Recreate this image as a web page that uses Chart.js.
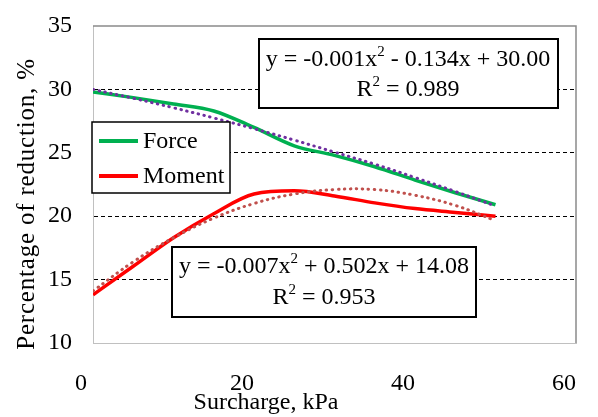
<!DOCTYPE html>
<html>
<head>
<meta charset="utf-8">
<script src="https://cdn.jsdelivr.net/npm/chart.js@4.4.1/dist/chart.umd.min.js"></script>
<style>
  html, body { margin: 0; padding: 0; background: #fff; }
  canvas { display: block; }
</style>
</head>
<body>
<canvas id="chart" width="598" height="417"></canvas>
<script>
// Reduction (%) against surcharge (kPa)
const surcharge = [0, 5, 10, 15, 20, 25, 30, 35, 40, 45, 50];
const forceReduction = [29.8, 29.35, 28.85, 28.3, 27.0, 25.55, 24.8, 23.9, 22.85, 21.85, 20.9];
const momentReduction = [13.8, 16.05, 18.3, 20.2, 21.75, 22.0, 21.6, 21.05, 20.6, 20.3, 20.0];

// Second-order polynomial trend curves
const trendSurcharge = [0, 5, 10, 15, 20, 25, 30, 35, 40, 45, 50];
const forceTrend = [30.0, 29.3, 28.55, 27.75, 26.9, 26.0, 25.05, 24.1, 23.05, 21.95, 20.8];
const momentTrend = [14.1, 16.4, 18.3, 19.85, 21.0, 21.75, 22.1, 22.1, 21.65, 20.85, 19.65];

// Axis ticks
const xTicks = [0, 20, 40, 60];
const yTicks = [10, 15, 20, 25, 30, 35];
const dashedGridValues = [15, 20, 25, 30];

// Series names
const seriesNames = ['Force', 'Moment'];

// Trend equations: [text, isSuperscript]
const forceEqLine1 = [['y = -0.001x', false], ['2', true], [' - 0.134x + 30.00', false]];
const forceEqLine2 = [['R', false], ['2', true], [' = 0.989', false]];
const momentEqLine1 = [['y = -0.007x', false], ['2', true], [' + 0.502x + 14.08', false]];
const momentEqLine2 = [['R', false], ['2', true], [' = 0.953', false]];

const xTitle = 'Surcharge, kPa';
const yTitle = 'Percentage of reduction, %';

const SERIF = '"Liberation Serif", "Times New Roman", serif';
const GREEN = '#00B050';
const RED = '#FF0000';
const PURPLE = '#7030A0';
const TREND_RED = '#C0504D';

const toPoints = (xs, ys) => xs.map((x, i) => ({ x, y: ys[i] }));

function richWidth(ctx, parts) {
  let w = 0;
  for (const [t, sup] of parts) {
    ctx.font = (sup ? '15px ' : '24px ') + SERIF;
    w += ctx.measureText(t).width;
  }
  return w;
}

function drawRich(ctx, parts, cx, cy) {
  let x = cx - richWidth(ctx, parts) / 2;
  ctx.textAlign = 'left';
  ctx.textBaseline = 'middle';
  for (const [t, sup] of parts) {
    ctx.font = (sup ? '15px ' : '24px ') + SERIF;
    ctx.fillText(t, x, sup ? cy - 8 : cy);
    x += ctx.measureText(t).width;
  }
}

function drawBox(ctx, x, y, w, h, lw) {
  ctx.fillStyle = '#fff';
  ctx.fillRect(x, y, w, h);
  ctx.strokeStyle = '#000';
  ctx.lineWidth = lw;
  ctx.strokeRect(x, y, w, h);
}

const annotations = {
  id: 'annotations',
  afterDatasetsDraw(chart) {
    const ctx = chart.ctx;
    const a = chart.chartArea;
    ctx.save();

    // Plot frame, top and right edges
    ctx.strokeStyle = '#8a8a8a';
    ctx.lineWidth = 1.5;
    ctx.setLineDash([]);
    ctx.beginPath();
    ctx.moveTo(a.left, a.top);
    ctx.lineTo(a.right, a.top);
    ctx.lineTo(a.right, a.bottom);
    ctx.stroke();

    // Legend
    drawBox(ctx, 92, 122, 138, 71, 1.5);
    const series = chart.data.datasets.filter(d => !d.isTrend);
    series.forEach((d, i) => {
      const cy = 141 + i * 35;
      ctx.strokeStyle = d.borderColor;
      ctx.lineWidth = 4;
      ctx.beginPath();
      ctx.moveTo(99, cy);
      ctx.lineTo(138, cy);
      ctx.stroke();
      ctx.fillStyle = '#000';
      ctx.font = '24px ' + SERIF;
      ctx.textAlign = 'left';
      ctx.textBaseline = 'middle';
      ctx.fillText(d.label, 143, cy + 1);
    });

    // Trend equations
    drawBox(ctx, 259, 39, 299, 69, 2);
    ctx.fillStyle = '#000';
    drawRich(ctx, forceEqLine1, 408, 60);
    drawRich(ctx, forceEqLine2, 408, 90);

    drawBox(ctx, 172, 247, 304, 70, 2);
    ctx.fillStyle = '#000';
    drawRich(ctx, momentEqLine1, 324, 267);
    drawRich(ctx, momentEqLine2, 324, 298);

    // Axis titles
    ctx.font = '24px ' + SERIF;
    ctx.fillStyle = '#000';
    ctx.textAlign = 'center';
    ctx.textBaseline = 'alphabetic';
    ctx.fillText(xTitle, 266, 409);

    ctx.save();
    ctx.translate(27, 204);
    ctx.rotate(-Math.PI / 2);
    ctx.font = '25px ' + SERIF;
    ctx.letterSpacing = '0.8px';
    ctx.textBaseline = 'middle';
    ctx.fillText(yTitle, 0, 0);
    ctx.restore();

    ctx.restore();
  }
};

const trendStyle = {
  fill: false,
  pointRadius: 0,
  borderWidth: 3,
  borderDash: [0.5, 5.5],
  borderCapStyle: 'round',
  tension: 0.4,
  isTrend: true,
  order: 0
};

const seriesStyle = {
  fill: false,
  pointRadius: 0,
  borderWidth: 3.5,
  cubicInterpolationMode: 'monotone',
  order: 1
};

new Chart(document.getElementById('chart'), {
  type: 'line',
  data: {
    datasets: [
      Object.assign({ label: seriesNames[0], data: toPoints(surcharge, forceReduction), borderColor: GREEN }, seriesStyle),
      Object.assign({ label: seriesNames[1], data: toPoints(surcharge, momentReduction), borderColor: RED }, seriesStyle),
      Object.assign({ label: 'Poly. (Force)', data: toPoints(trendSurcharge, forceTrend), borderColor: PURPLE }, trendStyle),
      Object.assign({ label: 'Poly. (Moment)', data: toPoints(trendSurcharge, momentTrend), borderColor: TREND_RED }, trendStyle)
    ]
  },
  options: {
    responsive: false,
    animation: false,
    devicePixelRatio: 1,
    layout: { padding: { left: 0, top: 26, right: 22, bottom: 0 } },
    plugins: {
      legend: { display: false },
      tooltip: { enabled: false },
      title: { display: false }
    },
    scales: {
      x: {
        type: 'linear',
        min: 0,
        max: 60,
        afterBuildTicks: s => { s.ticks = xTicks.map(v => ({ value: v })); },
        afterFit: s => {
          s.height = 74;
          s.paddingLeft = 0;
          s.paddingRight = 0;
        },
        ticks: {
          font: { family: SERIF, size: 24 },
          color: '#000',
          padding: 26,
          labelOffset: -12,
          maxRotation: 0
        },
        grid: { display: true, color: 'rgba(0,0,0,0)', drawTicks: false },
        border: { display: true, color: '#c0c0c0', width: 1 }
      },
      y: {
        min: 10,
        max: 35,
        afterBuildTicks: s => { s.ticks = yTicks.map(v => ({ value: v })); },
        afterFit: s => {
          s.width = 93;
          s.paddingTop = 0;
          s.paddingBottom = 0;
        },
        ticks: {
          font: { family: SERIF, size: 24 },
          color: '#000',
          padding: 21
        },
        grid: {
          drawTicks: false,
          lineWidth: 1,
          color: c => dashedGridValues.includes(c.tick && c.tick.value) ? '#000' : 'rgba(0,0,0,0)'
        },
        border: { display: true, color: '#c0c0c0', width: 1, dash: [4, 3] }
      }
    }
  },
  plugins: [annotations]
});
</script>
</body>
</html>
